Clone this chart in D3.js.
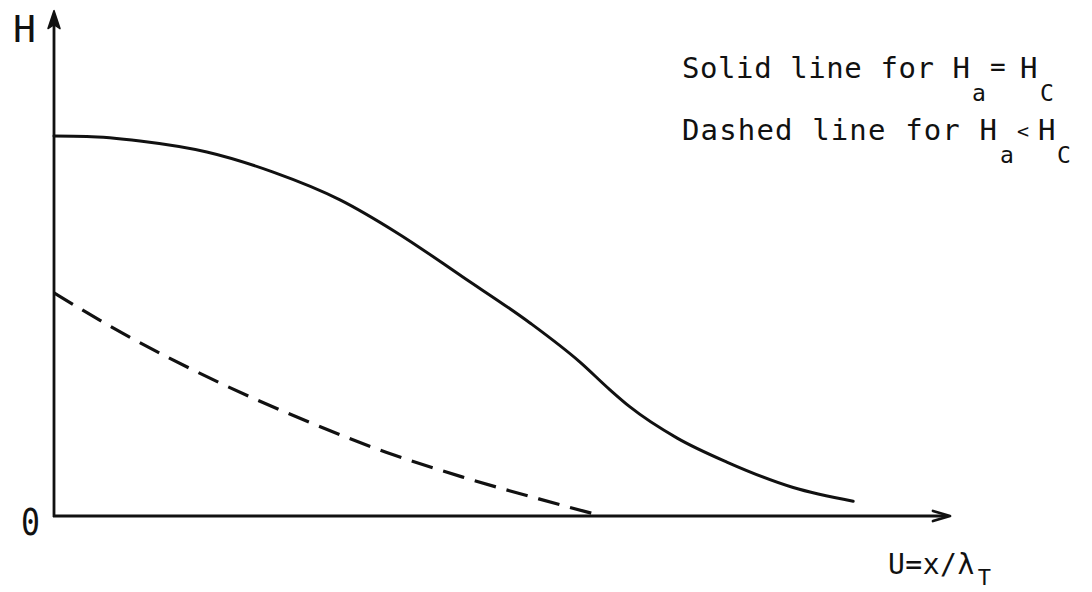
<!DOCTYPE html>
<html>
<head>
<meta charset="utf-8">
<script src="https://cdn.jsdelivr.net/npm/d3@7"></script>
<style>
  html, body { margin: 0; padding: 0; background: #fff; }
  svg { display: block; }
  text { font-family: "DejaVu Sans Mono", "Liberation Mono", monospace; fill: #111; }
</style>
</head>
<body>
<svg id="chart" width="1092" height="592"></svg>
<script>
// ---- data (u = x/λT, H normalised to solid-curve peak) ----
const solidU = [0.0, 0.041, 0.1075, 0.191, 0.274, 0.3575, 0.429, 0.511, 0.595, 0.6575, 0.695, 0.72, 0.779, 0.841, 0.924, 0.999];
const solidH = [1.0, 0.999, 0.987, 0.958, 0.905, 0.832, 0.745, 0.629, 0.508, 0.405, 0.332, 0.287, 0.205, 0.142, 0.075, 0.039];
const dashedU = [0.0, 0.085, 0.2075, 0.319, 0.415, 0.51, 0.606, 0.676];
const dashedH = [0.587, 0.482, 0.35, 0.247, 0.168, 0.103, 0.045, 0.005];
const yTickLabels = ["0"];
const yAxisTitle = "H";
const xAxisTitle = "U=x/λ";
const xAxisSub = "T";
const legendSolid = ["Solid line for H", "a", "=", "H", "C"];
const legendDashed = ["Dashed line for H", "a", "<", "H", "C"];

const svg = d3.select("#chart");
const x = d3.scaleLinear().domain([0, 1]).range([54, 854]);
const y = d3.scaleLinear().domain([0, 1]).range([516, 136]);
const xMax = 1.12, yMax = 1.33;

const ink = "#111";

// axes
svg.append("line")
  .attr("x1", x(0)).attr("y1", y(0) + 1)
  .attr("x2", x(0)).attr("y2", y(yMax) + 8)
  .attr("stroke", ink).attr("stroke-width", 2.8);
svg.append("path")
  .attr("d", `M${x(0)},${y(yMax)} L${x(0) - 6},${y(yMax) + 18} L${x(0)},${y(yMax) + 14} L${x(0) + 6},${y(yMax) + 18} Z`)
  .attr("fill", ink).attr("stroke", ink).attr("stroke-width", 1.5).attr("stroke-linejoin", "round");

svg.append("line")
  .attr("x1", x(0) - 1).attr("y1", y(0))
  .attr("x2", x(xMax) - 2).attr("y2", y(0))
  .attr("stroke", ink).attr("stroke-width", 2.8);
svg.append("path")
  .attr("d", `M${x(xMax) - 17},${y(0) - 5} L${x(xMax)},${y(0)} L${x(xMax) - 17},${y(0) + 5}`)
  .attr("fill", "none").attr("stroke", ink).attr("stroke-width", 2.8)
  .attr("stroke-linejoin", "round").attr("stroke-linecap", "round");

// curves
const line = d3.line().x(d => x(d[0])).y(d => y(d[1])).curve(d3.curveMonotoneX);
svg.append("path")
  .attr("d", line(d3.zip(solidU, solidH)))
  .attr("fill", "none").attr("stroke", ink).attr("stroke-width", 3).attr("stroke-linecap", "round");
svg.append("path")
  .attr("d", line(d3.zip(dashedU, dashedH)))
  .attr("fill", "none").attr("stroke", ink).attr("stroke-width", 3.2)
  .attr("stroke-dasharray", "22,11");

// labels
svg.append("text").attr("x", 13).attr("y", 42).attr("font-size", 38).text(yAxisTitle);
svg.append("text").attr("x", 21).attr("y", y(0) + 19).attr("font-size", 38)
  .attr("textLength", 19).attr("lengthAdjust", "spacingAndGlyphs").text(yTickLabels[0]);

const xt = svg.append("text").attr("x", 888).attr("y", 574).attr("font-size", 28).attr("letter-spacing", 0.5);
xt.append("tspan").text(xAxisTitle);
xt.append("tspan").attr("dx", 3).attr("dy", 11).attr("font-size", 22).text(xAxisSub);

function legend(parts, yb, pos, opSize) {
  const g = svg.append("g");
  g.append("text").attr("x", 682).attr("y", yb).attr("font-size", 29)
    .attr("textLength", pos[0] + 17 - 682).attr("lengthAdjust", "spacing").text(parts[0]);
  g.append("text").attr("x", pos[1]).attr("y", yb + 23).attr("font-size", 23).text(parts[1]);
  g.append("text").attr("x", pos[2]).attr("y", yb - 2).attr("font-size", opSize).text(parts[2]);
  g.append("text").attr("x", pos[3]).attr("y", yb).attr("font-size", 29).text(parts[3]);
  g.append("text").attr("x", pos[4]).attr("y", yb + 23).attr("font-size", 23).text(parts[4]);
}
legend(legendSolid, 78, [953, 972, 990, 1020, 1040], 26);
legend(legendDashed, 140, [980, 1000, 1017, 1038, 1057], 20);
</script>
</body>
</html>
